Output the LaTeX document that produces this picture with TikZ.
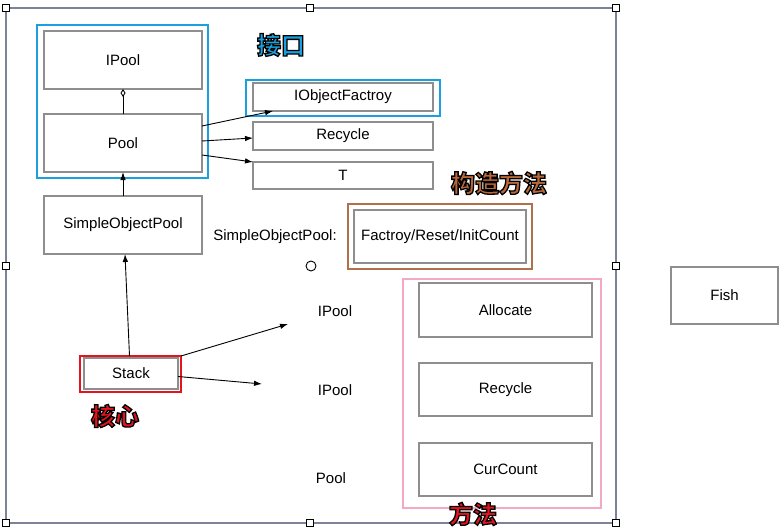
\documentclass[tikz,border=0pt]{standalone}
\usepackage{fontspec}
\setmainfont{Liberation Sans}
\newfontfamily\cjk{Noto Sans CJK SC}
\usetikzlibrary{arrows.meta}
\definecolor{fblue}{HTML}{1AA0DE}
\definecolor{fbrown}{HTML}{B07048}
\definecolor{fpink}{HTML}{F5A8C4}
\definecolor{fred}{HTML}{E3141E}
\definecolor{fgrey}{HTML}{8E8E8E}
\definecolor{fframe}{HTML}{7C8399}
\definecolor{tbrown}{HTML}{B8683A}
\newcommand{\outlined}[2]{\textcolor{#1}{\special{pdf:literal 2 Tr 1.3 w 0 G}#2\special{pdf:literal 0 Tr}}}
\begin{document}
\begin{tikzpicture}[x=1pt,y=-1pt,
  every node/.style={inner sep=0pt,outer sep=0pt,font=\fontsize{15}{17}\selectfont},
  gbox/.style={draw=fgrey,line width=1.1pt,fill=white,rectangle},
  hframe/.style={draw,rectangle,line width=2.4pt},
  handle/.style={draw=black,fill=white,rectangle,minimum size=7pt,line width=0.8pt},
  cjklabel/.style={font=\cjk\bfseries\fontsize{24}{26}\selectfont},
  arr/.style={-{Latex[length=8pt,width=5.5pt]},line width=0.9pt}]
\useasboundingbox (0,0) rectangle (784,530);
% outer frame
\draw[fframe,line width=2.5pt] (6,8) rectangle (616,523);
\foreach \p/\n in {{(6,8)}/h1,{(310,8)}/h2,{(616,8)}/h3,{(6,266)}/h4,{(616,266)}/h5,{(6,523)}/h6,{(310,523)}/h7,{(616,523)}/h8}
  \node[handle] (\n) at \p {};
% left column
\node[hframe,draw=fblue,minimum width=171pt,minimum height=153pt] (bluefr) at (122.5,101.5) {};
\node[gbox,minimum width=158pt,minimum height=58pt] (ipool) at (123,60) {IPool};
\node[gbox,minimum width=158pt,minimum height=58pt] (pool) at (123,143) {Pool};
\node[gbox,minimum width=158pt,minimum height=58pt] (sop) at (123,225) {SimpleObjectPool};
\draw[{Diamond[open,length=8pt,width=5pt]}-,line width=0.9pt] (ipool.south) -- (pool.north);
\draw[arr] (sop.north) -- (pool.south);
\node[cjklabel] (jiekou) at (281,45) {\outlined{fblue}{接口}};
% right of pool
\node[gbox,minimum width=180pt,minimum height=28pt] (ifac) at (343,97) {IObjectFactroy};
\node[hframe,draw=fblue,minimum width=194pt,minimum height=36pt] (ifacfr) at (343,98) {};
\node[gbox,minimum width=180pt,minimum height=28pt] (rec1) at (343,136) {Recycle};
\node[gbox,minimum width=180pt,minimum height=27pt] (tbox) at (343,175.5) {T};
\draw[arr] ([yshift=17pt]pool.east) -- ([xshift=20pt]ifac.south west);
\draw[arr] ([yshift=2pt]pool.east) -- ([yshift=-2pt]rec1.west);
\draw[arr] ([yshift=-12pt]pool.east) -- (tbox.north west);
\node[cjklabel] (gouzao) at (499,183) {\outlined{tbrown}{构造方法}};
% constructor
\node (soplabel) at (275,237) {SimpleObjectPool:};
\node[hframe,draw=fbrown,line width=2pt,minimum width=184pt,minimum height=65pt] (brownfr) at (440,236.5) {};
\node[gbox,minimum width=172pt,minimum height=53pt] (fac) at (440,236.5) {Factroy/Reset/InitCount};
\node[draw=black,circle,line width=0.9pt,minimum size=10pt] (circ) at (311,266) {};
% methods
\node[hframe,draw=fpink,line width=1.8pt,minimum width=198pt,minimum height=229pt] (pinkfr) at (502,393.5) {};
\node[gbox,minimum width=173pt,minimum height=54pt] (alloc) at (505.5,310) {Allocate};
\node[gbox,minimum width=173pt,minimum height=53pt] (rec2) at (505.5,389.5) {Recycle};
\node[gbox,minimum width=173pt,minimum height=53pt] (cur) at (505.5,469.5) {CurCount};
\node (lab1) at (335,311) {IPool};
\node (lab2) at (335,390) {IPool};
\node (lab3) at (331,478) {Pool};
\node[cjklabel] (fangfa) at (473,514) {\outlined{fred}{方法}};
% fish
\node[gbox,minimum width=107pt,minimum height=57pt] (fish) at (724.5,295.5) {Fish};
% stack
\node[hframe,draw=fred,line width=2pt,minimum width=101pt,minimum height=36pt] (stackfr) at (130.5,374) {};
\node[gbox,minimum width=94pt,minimum height=31pt] (stack) at (131,373.5) {Stack};
\coordinate (e1) at (288,324);
\coordinate (e2) at (262,384);
\draw[arr] ([xshift=-1pt]stackfr.north) -- ([xshift=2pt]sop.south);
\draw[arr] (stackfr.north east) -- (e1);
\draw[arr] ([yshift=-3pt]stack.east) -- (e2);
\node[cjklabel] (hexin) at (115,416) {\outlined{fred}{核心}};
\end{tikzpicture}
\end{document}
